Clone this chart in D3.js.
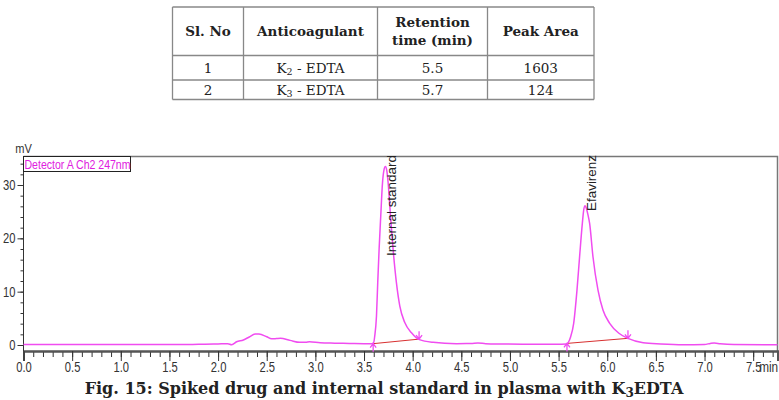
<!DOCTYPE html>
<meta charset="utf-8">
<script src="https://d3js.org/d3.v7.min.js"></script>
<style>
body { margin: 0; background: #fff; }
.tbl { font-family: "DejaVu Serif", serif; font-size: 13.5px; fill: #222; }
.tbl .hd { font-weight: bold; }
.ax text { font-family: "Liberation Sans", Arial, sans-serif; font-size: 14px; fill: #333; }
.cap { font-family: "DejaVu Serif", serif; font-weight: bold; font-size: 16px; fill: #222; }
</style>
<div id="chart"></div>
<script>
// table content
var tblHeader = [["Sl. No"], ["Anticoagulant"], ["Retention", "time (min)"], ["Peak Area"]];
var slNo = ["1", "2"];
var anticoag = [["K", "2", " - EDTA"], ["K", "3", " - EDTA"]];
var retention = ["5.5", "5.7"];
var peakArea = ["1603", "124"];

// chromatogram trace (min, mV)
var traceTime = [0.0, 0.5, 1.0, 1.5, 1.8, 2.0, 2.1, 2.14, 2.19, 2.26, 2.32, 2.38, 2.42, 2.5, 2.55, 2.6, 2.64, 2.74, 2.84, 2.9, 2.94, 3.05, 3.2, 3.35, 3.5, 3.58,
  3.60, 3.61, 3.628, 3.641, 3.655, 3.672, 3.69, 3.705, 3.72, 3.735, 3.748, 3.772, 3.799, 3.833, 3.868, 3.919, 3.988, 4.07,
  4.21, 4.45, 4.6, 4.67, 4.75, 4.9, 5.2, 5.48, 5.58,
  5.60, 5.624, 5.655, 5.689, 5.716, 5.744, 5.758, 5.772, 5.786, 5.802, 5.819, 5.853, 5.905, 5.956, 6.025, 6.12, 6.213,
  6.37, 6.55, 6.78, 7.0, 7.06, 7.1, 7.16, 7.3, 7.63, 7.75];
var traceMV = [0.1, 0.1, 0.1, 0.1, 0.12, 0.2, 0.25, 0.05, 0.6, 0.95, 1.5, 2.05, 2.05, 1.55, 1.15, 1.2, 1.25, 0.87, 0.5, 0.5, 0.62, 0.42, 0.35, 0.3, 0.25, 0.25,
  0.5, 1.65, 5.4, 11.7, 17.9, 24.2, 30.4, 32.8, 33.45, 32.6, 30.4, 24.2, 17.9, 11.7, 7.3, 4.2, 2.3, 1.0,
  0.5, 0.25, 0.27, 0.37, 0.25, 0.19, 0.15, 0.12, 0.2,
  0.5, 1.56, 4.07, 10.3, 16.6, 22.8, 25.3, 26.1, 25.6, 24.4, 22.8, 16.6, 10.3, 6.57, 4.07, 2.2, 1.25,
  0.43, 0.2, 0.05, 0.1, 0.3, 0.37, 0.25, 0.1, 0.05, 0.05];

// integration baselines and peak names
var peakNames = ["Internal standard", "Efavirenz"];
var peakApex = [3.72, 5.772];
var peakStart = [[3.594, 0.25], [5.586, 0.3]];
var peakEnd = [[4.066, 1.1], [6.213, 1.25]];

var xMajor = [0.0, 0.5, 1.0, 1.5, 2.0, 2.5, 3.0, 3.5, 4.0, 4.5, 5.0, 5.5, 6.0, 6.5, 7.0, 7.5];
var yMajor = [0, 10, 20, 30];

var W = 779, H = 400;
var svg = d3.select("#chart").append("svg").attr("width", W).attr("height", H);

// ---- table ----
var colX = [172.5, 243.5, 377.5, 487.5, 594];
var rowY = [7, 55.5, 80, 99.5];
var tg = svg.append("g").attr("class", "tbl");
colX.forEach(function(cx) {
  tg.append("line").attr("x1", cx).attr("x2", cx).attr("y1", rowY[0]).attr("y2", rowY[3])
    .attr("stroke", "#888").attr("stroke-width", 1.3);
});
rowY.forEach(function(ry) {
  tg.append("line").attr("x1", colX[0]).attr("x2", colX[4]).attr("y1", ry).attr("y2", ry)
    .attr("stroke", "#888").attr("stroke-width", 1.3);
});
var mid = function(i) { return (colX[i] + colX[i + 1]) / 2; };
tblHeader.forEach(function(lines, i) {
  var cy = (rowY[0] + rowY[1]) / 2;
  lines.forEach(function(s, j) {
    tg.append("text").attr("class", "hd").attr("x", mid(i))
      .attr("y", cy + 5 + (j - (lines.length - 1) / 2) * 18)
      .attr("text-anchor", "middle").text(s);
  });
});
[0, 1].forEach(function(r) {
  var by = (rowY[r + 1] + rowY[r + 2]) / 2 + 5;
  tg.append("text").attr("x", mid(0)).attr("y", by).attr("text-anchor", "middle").text(slNo[r]);
  var t = tg.append("text").attr("x", mid(1)).attr("y", by).attr("text-anchor", "middle");
  t.append("tspan").text(anticoag[r][0]);
  t.append("tspan").attr("dy", 2).attr("font-size", "9.5px").text(anticoag[r][1]);
  t.append("tspan").attr("dy", -2).text(anticoag[r][2]);
  tg.append("text").attr("x", mid(2)).attr("y", by).attr("text-anchor", "middle").text(retention[r]);
  tg.append("text").attr("x", mid(3)).attr("y", by).attr("text-anchor", "middle").text(peakArea[r]);
});

// ---- chromatogram ----
var x = d3.scaleLinear().domain([0, 7.75]).range([23.5, 777.5]);
var y = d3.scaleLinear().domain([0, 30]).range([345, 185]);
var yTop = 156.5, yBottom = 351;

// frame (top / right)
svg.append("path").attr("d", "M" + x(0) + "," + yTop + "H" + x(7.75) + "V" + yBottom)
  .attr("fill", "none").attr("stroke", "#777").attr("stroke-width", 1.5);

// x axis
var gx = svg.append("g").attr("class", "ax").attr("transform", "translate(0," + yBottom + ")");
gx.call(d3.axisBottom(x).tickValues(d3.range(0, 7.76, 0.1)).tickSize(6).tickFormat(""));
gx.append("g").call(d3.axisBottom(x).tickValues(xMajor).tickSize(10).tickPadding(1)
  .tickFormat(function(d) { return d3.format(".1f")(d); }));
gx.selectAll(".domain").attr("stroke", "#555").attr("stroke-width", 2);
gx.selectAll(".tick line").attr("stroke", "#333");
gx.selectAll(".tick text").attr("transform", "scale(0.8,1)");
gx.append("text").attr("x", x(7.5) + 6).attr("y", 21).attr("text-anchor", "start").attr("fill", "#333")
  .attr("textLength", 19).attr("lengthAdjust", "spacingAndGlyphs").text("min");

// y axis
var gy = svg.append("g").attr("class", "ax").attr("transform", "translate(" + x(0) + ",0)");
gy.call(d3.axisLeft(y).tickValues(d3.range(0, 35, 2)).tickSize(3).tickFormat(""));
gy.append("g").call(d3.axisLeft(y).tickValues(yMajor).tickSize(6).tickPadding(2));
gy.selectAll(".domain").remove();
gy.append("line").attr("x1", 0).attr("x2", 0).attr("y1", yTop).attr("y2", yBottom).attr("stroke", "#333");
gy.selectAll(".tick line").attr("stroke", "#333");
gy.selectAll(".tick text").attr("transform", "scale(0.8,1)").attr("x", -10);
gy.append("text").attr("x", 0).attr("y", 153).attr("text-anchor", "middle").attr("fill", "#333")
  .attr("transform", "scale(0.85,1)").style("font-size", "13px").text("mV");

// detector label
svg.append("rect").attr("x", x(0)).attr("y", yTop).attr("width", 107).attr("height", 15)
  .attr("fill", "#fff").attr("stroke", "#222").attr("stroke-width", 1);
svg.append("text").attr("x", x(0) + 1).attr("y", yTop + 12)
  .style("font-family", "'Liberation Sans', Arial, sans-serif")
  .style("font-size", "12.5px").attr("fill", "#e020e0")
  .attr("textLength", 106).attr("lengthAdjust", "spacingAndGlyphs").text("Detector A Ch2 247nm");

// baselines
var magenta = "#f04cf0";
peakStart.forEach(function(s, i) {
  svg.append("line").attr("x1", x(s[0])).attr("y1", y(s[1])).attr("x2", x(peakEnd[i][0])).attr("y2", y(peakEnd[i][1]))
    .attr("stroke", "#d83030").attr("stroke-width", 1);
});

// trace
var pts = traceTime.map(function(t, i) { return [t, traceMV[i]]; });
svg.append("path").datum(pts)
  .attr("fill", "none").attr("stroke", magenta).attr("stroke-width", 1.5)
  .attr("d", d3.line().x(function(d) { return x(d[0]); }).y(function(d) { return y(d[1]); }).curve(d3.curveMonotoneX));

// peak markers
peakStart.forEach(function(s) {
  var px = x(s[0]), py = y(s[1]);
  svg.append("path").attr("d", "M" + px + "," + (py + 8) + "V" + py + "M" + (px - 3) + "," + (py + 4) + "L" + px + "," + py + "L" + (px + 3) + "," + (py + 4))
    .attr("fill", "none").attr("stroke", magenta).attr("stroke-width", 1.3);
});
peakEnd.forEach(function(s) {
  var px = x(s[0]), py = y(s[1]);
  svg.append("path").attr("d", "M" + px + "," + (py - 8) + "V" + py + "M" + (px - 3) + "," + (py - 4) + "L" + px + "," + py + "L" + (px + 3) + "," + (py - 4))
    .attr("fill", "none").attr("stroke", magenta).attr("stroke-width", 1.3);
});

// peak names
var nameLen = [101, 56];
peakNames.forEach(function(n, i) {
  var px = x(peakApex[i]) + 11;
  svg.append("text").attr("transform", "translate(" + px + ",155) rotate(-90)")
    .attr("text-anchor", "end")
    .style("font-family", "'Liberation Sans', Arial, sans-serif").style("font-size", "12px")
    .attr("fill", "#222").attr("textLength", nameLen[i]).attr("lengthAdjust", "spacingAndGlyphs").text(n);
});

// caption
var cap = svg.append("text").attr("class", "cap").attr("x", 384).attr("y", 394).attr("text-anchor", "middle");
cap.append("tspan").text("Fig. 15: Spiked drug and internal standard in plasma with K");
cap.append("tspan").attr("dy", 3).attr("font-size", "12px").text("3");
cap.append("tspan").attr("dy", -3).text("EDTA");
</script>
